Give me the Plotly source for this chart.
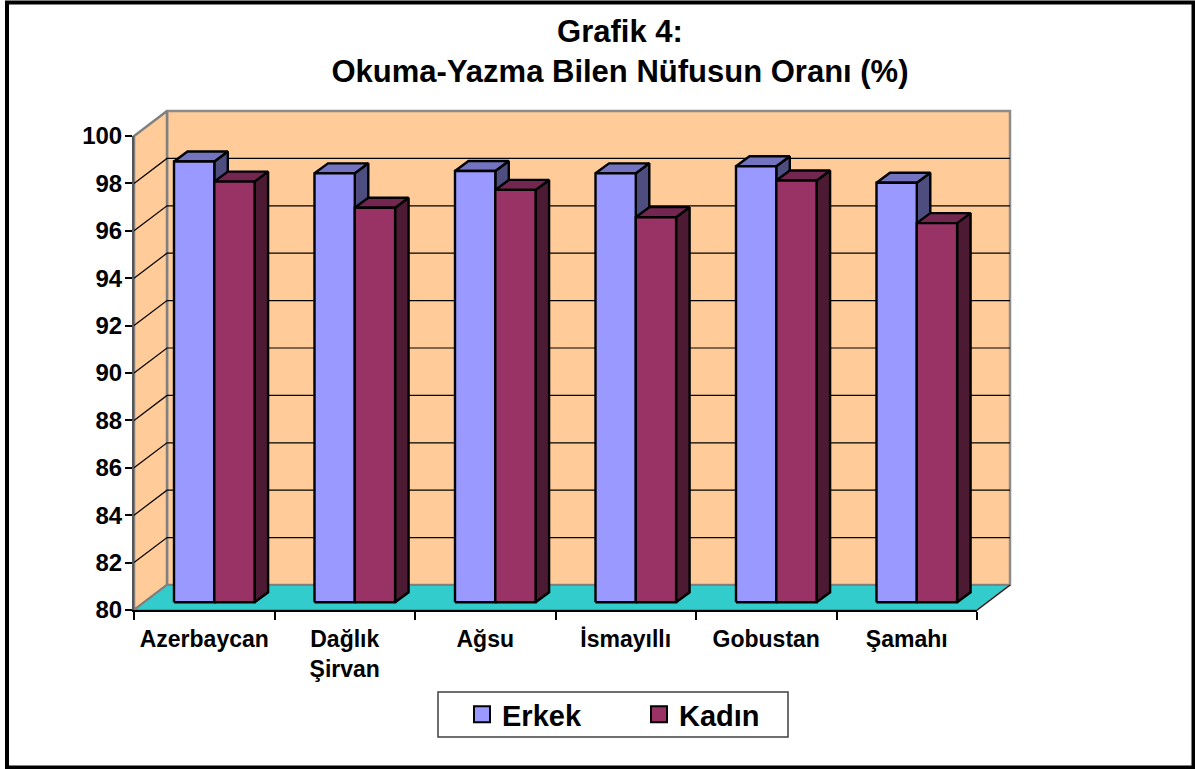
import plotly.graph_objects as go

categories = ["Azerbaycan", "Dağlık<br>Şirvan", "Ağsu", "İsmayıllı", "Gobustan", "Şamahı"]
erkek = [98.6, 98.1, 98.2, 98.1, 98.4, 97.7]
kadin = [97.75, 96.65, 97.4, 96.25, 97.8, 96.0]
y_ticks = [80, 82, 84, 86, 88, 90, 92, 94, 96, 98, 100]
series_names = ["Erkek", "Kadın"]
title_text = "Grafik 4:<br>Okuma-Yazma Bilen Nüfusun Oranı (%)"

W, H = 1195, 769
PX0, PY0 = 134, 610       # pixel of category 0 / value 80
PXU = 843 / 6             # pixels per category
PYU = 474 / 20            # pixels per percent
FONT = "Liberation Sans"

n = len(categories)
wall_dx = 33 / PXU
wall_dy = 25 / PYU
bar_dx = 13.5 / PXU
bar_dy = 10 / PYU
bar_off_x = 40 / PXU      # left edge of first bar inside its category slot
bar_w = 40.3 / PXU
lift = 7.7 / PYU          # bars stand this far behind the front edge of the floor


def poly(points_list):
    xs, ys = [], []
    for pts in points_list:
        for x, y in pts + [pts[0]]:
            xs.append(x)
            ys.append(y)
        xs.append(None)
        ys.append(None)
    return xs, ys


def add_poly(fig, polys, fill, line="black", width=2):
    xs, ys = poly(polys)
    fig.add_trace(go.Scatter(x=xs, y=ys, mode="lines", fill="toself", fillcolor=fill,
                             line=dict(color=line, width=width), hoverinfo="skip",
                             showlegend=False, xaxis="x", yaxis="y"))


fig = go.Figure()

# walls and floor
add_poly(fig, [[(wall_dx, 80 + wall_dy), (n + wall_dx, 80 + wall_dy),
                (n + wall_dx, 100 + wall_dy), (wall_dx, 100 + wall_dy)]], "#FFCC99", "#8C8C8C", 2.5)
add_poly(fig, [[(0, 80), (wall_dx, 80 + wall_dy), (wall_dx, 100 + wall_dy), (0, 100)]],
         "#FFCC99", "#808080", 2.5)
add_poly(fig, [[(0, 80), (n, 80), (n + wall_dx, 80 + wall_dy), (wall_dx, 80 + wall_dy)]],
         "#33CCCC", "#808080", 2)

# gridlines
gx, gy = [], []
for v in y_ticks[1:-1]:
    gx += [0, wall_dx, n + wall_dx, None]
    gy += [v, v + wall_dy, v + wall_dy, None]
fig.add_trace(go.Scatter(x=gx, y=gy, mode="lines", line=dict(color="black", width=1.2),
                         hoverinfo="skip", showlegend=False, xaxis="x", yaxis="y"))
fig.add_trace(go.Scatter(x=[n, n + wall_dx], y=[80, 80 + wall_dy], mode="lines",
                         line=dict(color="black", width=1), hoverinfo="skip",
                         showlegend=False, xaxis="x", yaxis="y"))

# 3D bars
styles = [("#9999FF", "#7373BF", "#4D4D80"), ("#993366", "#732650", "#4D1A33")]
for s, values in enumerate([erkek, kadin]):
    front, top, side = [], [], []
    for i, v in enumerate(values):
        x0 = i + bar_off_x + s * bar_w
        x1 = x0 + bar_w
        b = 80 + lift
        t = v + lift
        front.append([(x0, b), (x1, b), (x1, t), (x0, t)])
        top.append([(x0, t), (x1, t), (x1 + bar_dx, t + bar_dy), (x0 + bar_dx, t + bar_dy)])
        side.append([(x1, b), (x1 + bar_dx, b + bar_dy), (x1 + bar_dx, t + bar_dy), (x1, t)])
    add_poly(fig, side, styles[s][2], width=2.4)
    add_poly(fig, top, styles[s][1], width=2.4)
    add_poly(fig, front, styles[s][0], width=2.4)

# carries the visible axes
fig.add_trace(go.Scatter(x=categories, y=erkek, mode="markers", marker=dict(opacity=0),
                         hoverinfo="skip", showlegend=False, xaxis="x2", yaxis="y2"))

# legend entries
for name, st in zip(series_names, styles):
    fig.add_trace(go.Scatter(x=[None], y=[None], mode="markers", name=name,
                             marker=dict(symbol="square", size=16, color=st[0],
                                         line=dict(color="black", width=2)),
                             xaxis="x2", yaxis="y2"))

fig.update_layout(
    width=W, height=H, autosize=False,
    margin=dict(l=0, r=0, t=0, b=0, autoexpand=False),
    paper_bgcolor="white", plot_bgcolor="rgba(0,0,0,0)",
    font=dict(family=FONT, color="black"),
    title=dict(text=title_text, x=620 / W, xanchor="center", y=1 - 42 / H, yanchor="middle",
               font=dict(family=FONT, size=31, weight=700, color="black")),
    xaxis=dict(domain=[0, 1], range=[-PX0 / PXU, (W - PX0) / PXU], visible=False, fixedrange=True),
    yaxis=dict(domain=[0, 1], range=[80 - (H - PY0) / PYU, 80 + PY0 / PYU], visible=False, fixedrange=True),
    xaxis2=dict(domain=[PX0 / W, (PX0 + n * PXU) / W], anchor="y2", type="category",
                categoryorder="array", categoryarray=categories, range=[-0.5, n - 0.5],
                tickson="boundaries", ticks="outside", ticklen=8, tickwidth=1.5, tickcolor="black",
                ticklabelstandoff=7,
                showline=True, linecolor="black", linewidth=2, showgrid=False, zeroline=False,
                tickfont=dict(family=FONT, size=23, weight=700, color="black"), tickangle=0, fixedrange=True),
    yaxis2=dict(domain=[(H - PY0) / H, (H - 136) / H], anchor="x2", range=[80, 100],
                tickvals=y_ticks, ticks="outside", ticklen=7, tickwidth=1.5, tickcolor="black",
                ticklabelstandoff=-2,
                showline=True, linecolor="#555555", linewidth=2, showgrid=False, zeroline=False,
                tickfont=dict(family=FONT, size=24, weight=700, color="black"), fixedrange=True),
    legend=dict(x=462 / W, y=1 - 714.5 / H, xanchor="left", yanchor="middle", orientation="h",
                bgcolor="rgba(0,0,0,0)", borderwidth=0,
                font=dict(family=FONT, size=29, weight=700, color="black"),
                entrywidth=132, entrywidthmode="pixels", itemclick=False, itemdoubleclick=False),
    shapes=[dict(type="rect", xref="paper", yref="paper", x0=7 / W, x1=1 - 1.5 / W,
                 y0=1.5 / H, y1=1 - 2.5 / H, line=dict(color="black", width=4), layer="above"),
            dict(type="rect", xref="paper", yref="paper", x0=438 / W, x1=788 / W,
                 y0=1 - 737 / H, y1=1 - 692 / H, line=dict(color="#404040", width=1.5),
                 fillcolor="white", layer="below")],
)

fig.write_html("out.html", config={"displayModeBar": False},
               post_script="document.body.style.margin='0';document.body.style.overflow='hidden';")
